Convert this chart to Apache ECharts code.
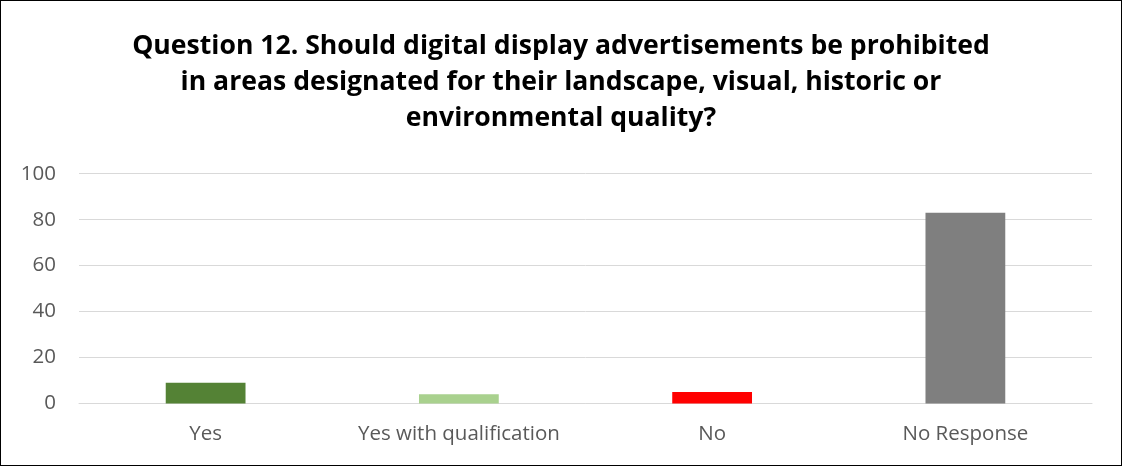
<!DOCTYPE html>
<html><head><meta charset="utf-8">
<script src="https://cdn.jsdelivr.net/npm/echarts@6/dist/echarts.min.js"></script>
<style>html,body{margin:0;padding:0;background:#fff}#c{width:1122px;height:466px;box-sizing:border-box;border:1.5px solid #000}</style>
</head><body><div id="c"></div>
<script>
const categories = ["Yes", "Yes with qualification", "No", "No Response"];
const values = [9, 4, 5, 83];
const barColors = ["#548235", "#A9D18E", "#FF0000", "#7F7F7F"];
const yTicks = [0, 20, 40, 60, 80, 100];
const titleText = "Question 12. Should digital display advertisements be prohibited\nin areas designated for their landscape, visual, historic or\nenvironmental quality?";

const chart = echarts.init(document.getElementById('c'), null, {renderer: 'canvas'});
chart.setOption({
  animation: false,
  title: {
    text: titleText, left: 'center', top: 22,
    textStyle: {fontFamily: 'Open Sans', fontWeight: 'bold', fontSize: 26.6, color: '#000', lineHeight: 36}
  },
  grid: {left: 78, right: 29, top: 172.7, bottom: 61.5},
  xAxis: {
    type: 'category', data: categories,
    axisLine: {lineStyle: {color: '#D9D9D9', width: 1}},
    axisTick: {show: false},
    axisLabel: {color: '#595959', fontSize: 20.5, fontFamily: 'Open Sans', margin: 20, interval: 0, hideOverlap: false}
  },
  yAxis: {
    type: 'value', min: 0, max: 100, interval: 20,
    axisLine: {show: false}, axisTick: {show: false},
    axisLabel: {color: '#595959', fontSize: 20.5, fontFamily: 'Open Sans', margin: 23},
    splitLine: {lineStyle: {color: '#D9D9D9', width: 1}}
  },
  series: [{
    type: 'bar', barWidth: '31.5%',
    data: values.map((v, i) => ({value: v, itemStyle: {color: barColors[i]}}))
  }]
});
</script></body></html>
